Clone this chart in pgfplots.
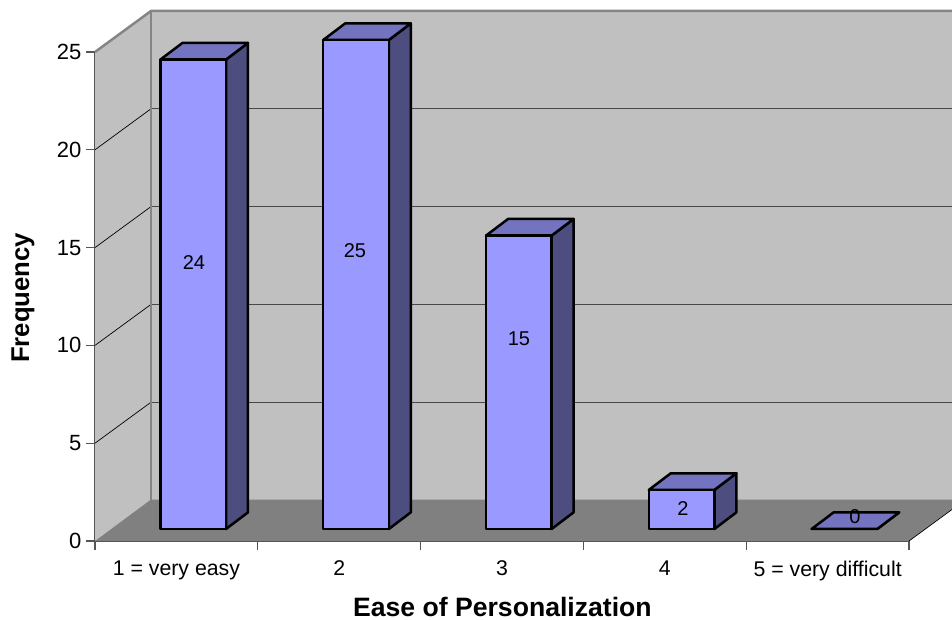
\documentclass[border=0pt]{standalone}
\usepackage{pgfplots}
\pgfplotsset{compat=1.18}
\usepackage{fontspec}
\setmainfont{Liberation Sans}
\definecolor{wall}{HTML}{C0C0C0}
\definecolor{floorgray}{HTML}{808080}
\definecolor{edgegray}{HTML}{858585}
\definecolor{axisgray}{HTML}{555555}
\definecolor{barfront}{HTML}{9999FF}
\definecolor{barside}{HTML}{4D4D80}
\definecolor{bartop}{HTML}{7373BF}

% One column in oblique projection: #1 category, #2 value, #3/#4 label position.
% Offsets are in data units: depth (0.344, 2.096) for the whole floor.
\newcommand{\columnthreed}[4]{%
  \pgfmathsetmacro\xl{#1-0.098}%
  \pgfmathsetmacro\xr{#1+0.3048}%
  \pgfmathsetmacro\xbl{\xl+0.135}%
  \pgfmathsetmacro\xbr{\xr+0.135}%
  \pgfmathsetmacro\yb{0.6135}%
  \pgfmathsetmacro\yt{#2+0.6135}%
  \pgfmathsetmacro\ybb{\yb+0.85}%
  \pgfmathsetmacro\ybt{\yt+0.85}%
  \addplot[draw=black,line width=2.5pt,line join=round,fill=barside]
    coordinates {(\xr,\yb) (\xbr,\ybb) (\xbr,\ybt) (\xr,\yt)} -- cycle;
  \addplot[draw=black,line width=2.5pt,line join=round,fill=bartop]
    coordinates {(\xl,\yt) (\xr,\yt) (\xbr,\ybt) (\xbl,\ybt)} -- cycle;
  \addplot[draw=black,line width=2.5pt,line join=round,fill=barfront]
    coordinates {(\xl,\yb) (\xr,\yb) (\xr,\yt) (\xl,\yt)} -- cycle;
  \node[font=\fontsize{20}{22}\selectfont,inner sep=0pt] at (axis cs:#3,#4) {#2};
}

\begin{document}
\begin{tikzpicture}[x=1pt,y=1pt]
\useasboundingbox (0,0) rectangle (952,620);
\clip (0,0) rectangle (952,620);
\begin{axis}[
  at={(95pt,79pt)},
  anchor=south west,
  scale only axis,
  width=814pt,
  height=489pt,
  xmin=0.5, xmax=5.5,
  ymin=0, ymax=25,
  clip=false,
  axis x line*=bottom,
  axis y line*=left,
  axis line style={draw=axisgray,line width=2pt,-},
  xtick={0.5,1.5,2.5,3.5,4.5,5.5},
  x tick label as interval,
  xticklabels={1 = very easy,2,3,4,5 = very difficult},
  ytick={0,5,10,15,20,25},
  tick align=outside,
  major tick length=9pt,
  tick style={draw=axisgray,line width=1.2pt},
  tick label style={font=\fontsize{22}{24}\selectfont},
  xticklabel style={font=\fontsize{21.3}{23}\selectfont,yshift=-7.5pt},
  yticklabel style={xshift=-1pt},
  /pgf/number format/assume math mode=true,
  xlabel={\textbf{Ease of Personalization}},
  ylabel={\textbf{Frequency}},
  label style={font=\fontsize{25.7}{28}\selectfont,inner sep=0pt},
  xlabel style={at={(axis description cs:0.5005,0)},anchor=center,yshift=-66pt,font=\fontsize{26.6}{28}\selectfont},
  ylabel style={at={(axis description cs:0,0.5)},anchor=center,xshift=-1.5pt,yshift=72pt},
]
% back wall and side wall
\addplot[fill=wall,draw=none] coordinates {(0.844,2.096) (5.844,2.096) (5.844,27.096) (0.844,27.096)} -- cycle;
\addplot[fill=wall,draw=none] coordinates {(0.5,0) (0.844,2.096) (0.844,27.096) (0.5,25)} -- cycle;
% floor
\addplot[fill=floorgray,draw=none] coordinates {(0.5,0) (5.5,0) (5.844,2.12) (0.844,2.12)} -- cycle;
% gridlines running across the side wall and the back wall
\pgfplotsinvokeforeach{5,10,15,20}{
  \addplot[black,line width=0.7pt] coordinates {(0.5,#1) (0.844,#1+2.096)};
  \addplot[axisgray!85!black,line width=1.1pt] coordinates {(0.844,#1+2.096) (5.844,#1+2.096)};
}
% wall edges
\addplot[edgegray,line width=2.5pt] coordinates {(0.844,2.12) (0.844,27.096)};
\addplot[edgegray,line width=2.5pt] coordinates {(0.5,25) (0.844,27.096) (5.844,27.096)};
\addplot[black,line width=0.7pt] coordinates {(5.5,0) (5.844,2.096)};
% columns
\columnthreed{1}{24}{1.108}{14.26}
\columnthreed{2}{25}{2.097}{14.83}
\columnthreed{3}{15}{3.104}{10.33}
\columnthreed{4}{2}{4.112}{1.64}
\columnthreed{5}{0}{5.168}{1.23}
\end{axis}
\end{tikzpicture}
\end{document}
